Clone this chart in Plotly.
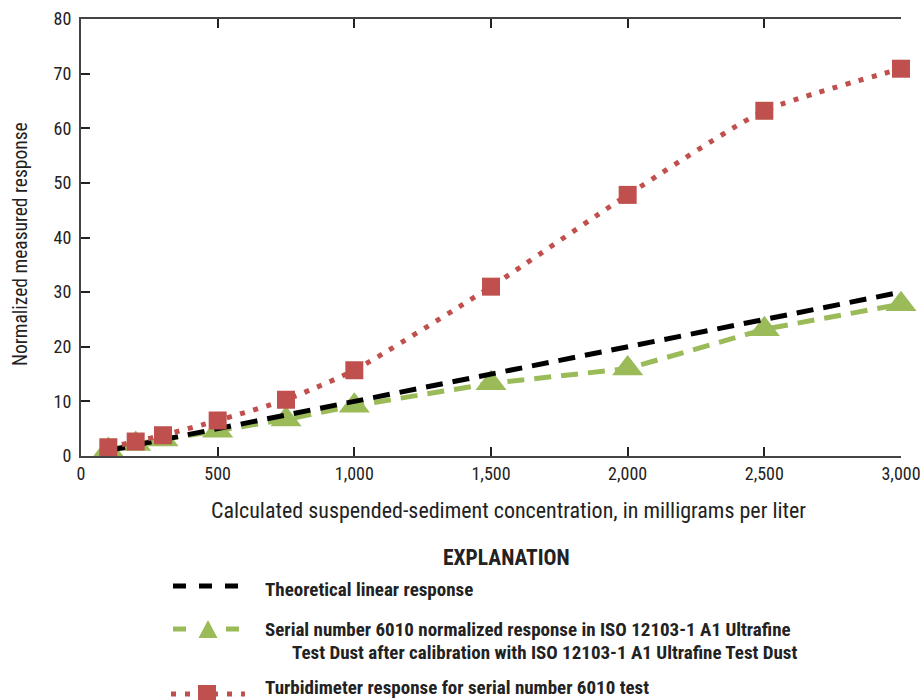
import plotly.graph_objects as go

# ---- data ----
concentration = [100, 200, 300, 500, 750, 1000, 1500, 2000, 2500, 3000]
theoretical = [1, 2, 3, 5, 7.5, 10, 15, 20, 25, 30]
serial_6010_iso = [1.1, 2.2, 3.0, 4.6, 6.7, 9.2, 13.3, 16.0, 23.2, 27.8]
turbidimeter_6010 = [1.6, 2.65, 3.8, 6.5, 10.3, 15.7, 31.0, 47.8, 63.2, 70.9]

x_ticks = [0, 500, 1000, 1500, 2000, 2500, 3000]
x_tick_text = ["0", "500", "1,000", "1,500", "2,000", "2,500", "3,000"]
y_ticks = [0, 10, 20, 30, 40, 50, 60, 70, 80]

legend_labels = [
    "Theoretical linear response",
    "Serial number 6010 normalized response in ISO 12103-1 A1 Ultrafine",
    "Test Dust after calibration with ISO 12103-1 A1 Ultrafine Test Dust",
    "Turbidimeter response for serial number 6010 test",
]

RED = "#C0504D"
GREEN = "#9BBB59"
BLACK = "#000000"
AXIS = "#444444"
FONT = "Roboto Condensed, Liberation Sans Narrow, DejaVu Sans Condensed, Arial Narrow, sans-serif"

W, H = 921, 700
L, R, T, B = 81, 901, 19, 456

fig = go.Figure()

fig.add_trace(go.Scatter(
    x=concentration, y=serial_6010_iso, mode="lines+markers",
    line=dict(color=GREEN, width=5, dash="17px,10px"),
    marker=dict(symbol="triangle-up", size=27, color=GREEN),
    cliponaxis=False, showlegend=False))

fig.add_trace(go.Scatter(
    x=concentration, y=theoretical, mode="lines",
    line=dict(color=BLACK, width=5, dash="17px,10px"),
    cliponaxis=False, showlegend=False))

fig.add_trace(go.Scatter(
    x=concentration, y=turbidimeter_6010, mode="lines+markers",
    line=dict(color=RED, width=5, dash="5px,8.6px", shape="spline", smoothing=0.55),
    marker=dict(symbol="square", size=18, color=RED),
    cliponaxis=False, showlegend=False))


def px(x):
    return (x - L) / (R - L)


def py(y):
    return (B - y) / (B - T)


shapes = []
annotations = []

# legend item 1: black dashed
shapes.append(dict(type="line", xref="paper", yref="paper",
                   x0=px(173), x1=px(239), y0=py(586), y1=py(586),
                   line=dict(color=BLACK, width=5, dash="13px,13px")))
# legend item 2: green dashed + triangle
shapes.append(dict(type="line", xref="paper", yref="paper",
                   x0=px(173), x1=px(239), y0=py(629), y1=py(629),
                   line=dict(color=GREEN, width=5, dash="13px,40px")))
tri = "M {} {} L {} {} L {} {} Z".format(px(198.5), py(638), px(217.5), py(638), px(208), py(620))
shapes.append(dict(type="path", xref="paper", yref="paper", path=tri,
                   fillcolor=GREEN, line=dict(color=GREEN, width=0)))
# legend item 3: red dotted + square
shapes.append(dict(type="line", xref="paper", yref="paper",
                   x0=px(171), x1=px(245), y0=py(694), y1=py(694),
                   line=dict(color=RED, width=5, dash="5px,9px")))
shapes.append(dict(type="rect", xref="paper", yref="paper",
                   x0=px(198), x1=px(216), y0=py(703), y1=py(685),
                   fillcolor=RED, line=dict(color=RED, width=0)))

annotations.append(dict(text="<b>EXPLANATION</b>", xref="paper", yref="paper",
                        x=px(506), y=py(557), xanchor="center", yanchor="middle",
                        showarrow=False, font=dict(family=FONT, size=21.5, color="#222")))
text_pos = [(263, 589), (263, 629), (290, 652), (263, 687)]
for (tx, ty), lab in zip(text_pos, legend_labels):
    annotations.append(dict(text="<b>" + lab + "</b>", xref="paper", yref="paper",
                            x=px(tx), y=py(ty), xanchor="left", yanchor="middle",
                            showarrow=False, font=dict(family=FONT, size=19, color="#222")))

# axis titles
annotations.append(dict(text="Calculated suspended-sediment concentration, in milligrams per liter",
                        xref="paper", yref="paper", x=px(508), y=py(511),
                        xanchor="center", yanchor="middle", showarrow=False,
                        font=dict(family=FONT, size=22, color="#222")))
annotations.append(dict(text="Normalized measured response",
                        xref="paper", yref="paper", x=px(20), y=py(244),
                        xanchor="center", yanchor="middle", showarrow=False, textangle=-90,
                        font=dict(family=FONT, size=19.5, color="#222")))

fig.update_layout(
    width=W, height=H,
    margin=dict(l=L, r=W - R, t=T, b=H - B, autoexpand=False),
    paper_bgcolor="white", plot_bgcolor="white",
    font=dict(family=FONT, size=18, color="#222"),
    xaxis=dict(range=[0, 3000], tickvals=x_ticks, ticktext=x_tick_text,
               showgrid=False, zeroline=False, showline=True, linecolor=AXIS, linewidth=2,
               ticks="inside", ticklen=9, tickwidth=1.5, tickcolor="#222",
               mirror="ticks", tickfont=dict(size=18), automargin=False),
    yaxis=dict(range=[0, 80], tickvals=y_ticks,
               showgrid=False, zeroline=False, showline=True, linecolor=AXIS, linewidth=2,
               ticks="inside", ticklen=9, tickwidth=1.5, tickcolor="#222",
               ticklabelstandoff=4, tickfont=dict(size=18), automargin=False),
    yaxis2=dict(range=[0, 6], tickvals=[1, 2, 3, 4, 5], overlaying="y", side="right",
                showgrid=False, zeroline=False, showline=True, linecolor="#222", linewidth=2,
                ticks="inside", ticklen=9, tickwidth=1.5, tickcolor="#222",
                showticklabels=False, automargin=False),
    shapes=shapes,
    annotations=annotations,
)

fig.write_html("out.html")
